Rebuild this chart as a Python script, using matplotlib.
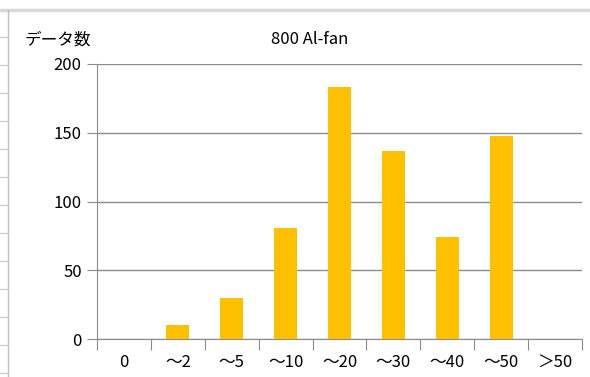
import matplotlib
matplotlib.use("Agg")
import matplotlib.pyplot as plt
from matplotlib.lines import Line2D

plt.rcParams['font.family'] = ['Noto Sans CJK JP', 'DejaVu Sans']

categories = ['0', '～2', '～5', '～10', '～20', '～30', '～40', '～50', '＞50']
counts = [0, 10, 30, 81, 183, 137, 74, 148, 0]
yticks = [0, 50, 100, 150, 200]

fig = plt.figure(figsize=(5.9, 3.77), dpi=100)
W, H = 590, 377
ax = fig.add_axes([97 / W, 1 - 339 / H, (582 - 97) / W, (339 - 64) / H])

x = list(range(len(categories)))
ax.bar(x, counts, width=0.43, color='#FFC000', zorder=3)

ax.set_xlim(-0.5, len(categories) - 0.5)
ax.set_ylim(0, 200)
ax.set_yticks(yticks)
ax.set_yticklabels([str(v) for v in yticks], fontsize=12)
ax.yaxis.grid(True, color='#8c8c8c', linewidth=1, zorder=0)

# category labels sit between the boundary ticks
ax.set_xticks([i - 0.5 for i in range(len(categories) + 1)])
ax.set_xticklabels([])
ax.set_xticks(x, minor=True)
ax.set_xticklabels(categories, minor=True, fontsize=12)
ax.tick_params(axis='x', which='major', length=8, color='#8c8c8c', direction='out')
ax.tick_params(axis='x', which='minor', length=0, pad=11)
ax.tick_params(axis='y', length=7, color='#8c8c8c', pad=4)

for s in ['top', 'right']:
    ax.spines[s].set_visible(False)
for s in ['left', 'bottom']:
    ax.spines[s].set_color('#8c8c8c')

fig.text(25 / W, 1 - 40 / H, 'データ数', fontsize=12, va='center', ha='left')
fig.text(310 / W, 1 - 40 / H, '800 Al-fan', fontsize=12, va='center', ha='center')

# spreadsheet edge around the chart
fig.add_artist(Line2D([0, 1], [1 - 10 / H, 1 - 10 / H], color='#d9d9d9', linewidth=2.5, transform=fig.transFigure))
fig.add_artist(Line2D([8 / W, 8 / W], [0, 1 - 10 / H], color='#bfbfbf', linewidth=1, transform=fig.transFigure))
for yy in range(37, 377, 28):
    fig.add_artist(Line2D([0, 8 / W], [1 - yy / H, 1 - yy / H], color='#d0d0d0', linewidth=1, transform=fig.transFigure))

fig.savefig('out.png', dpi=100)
